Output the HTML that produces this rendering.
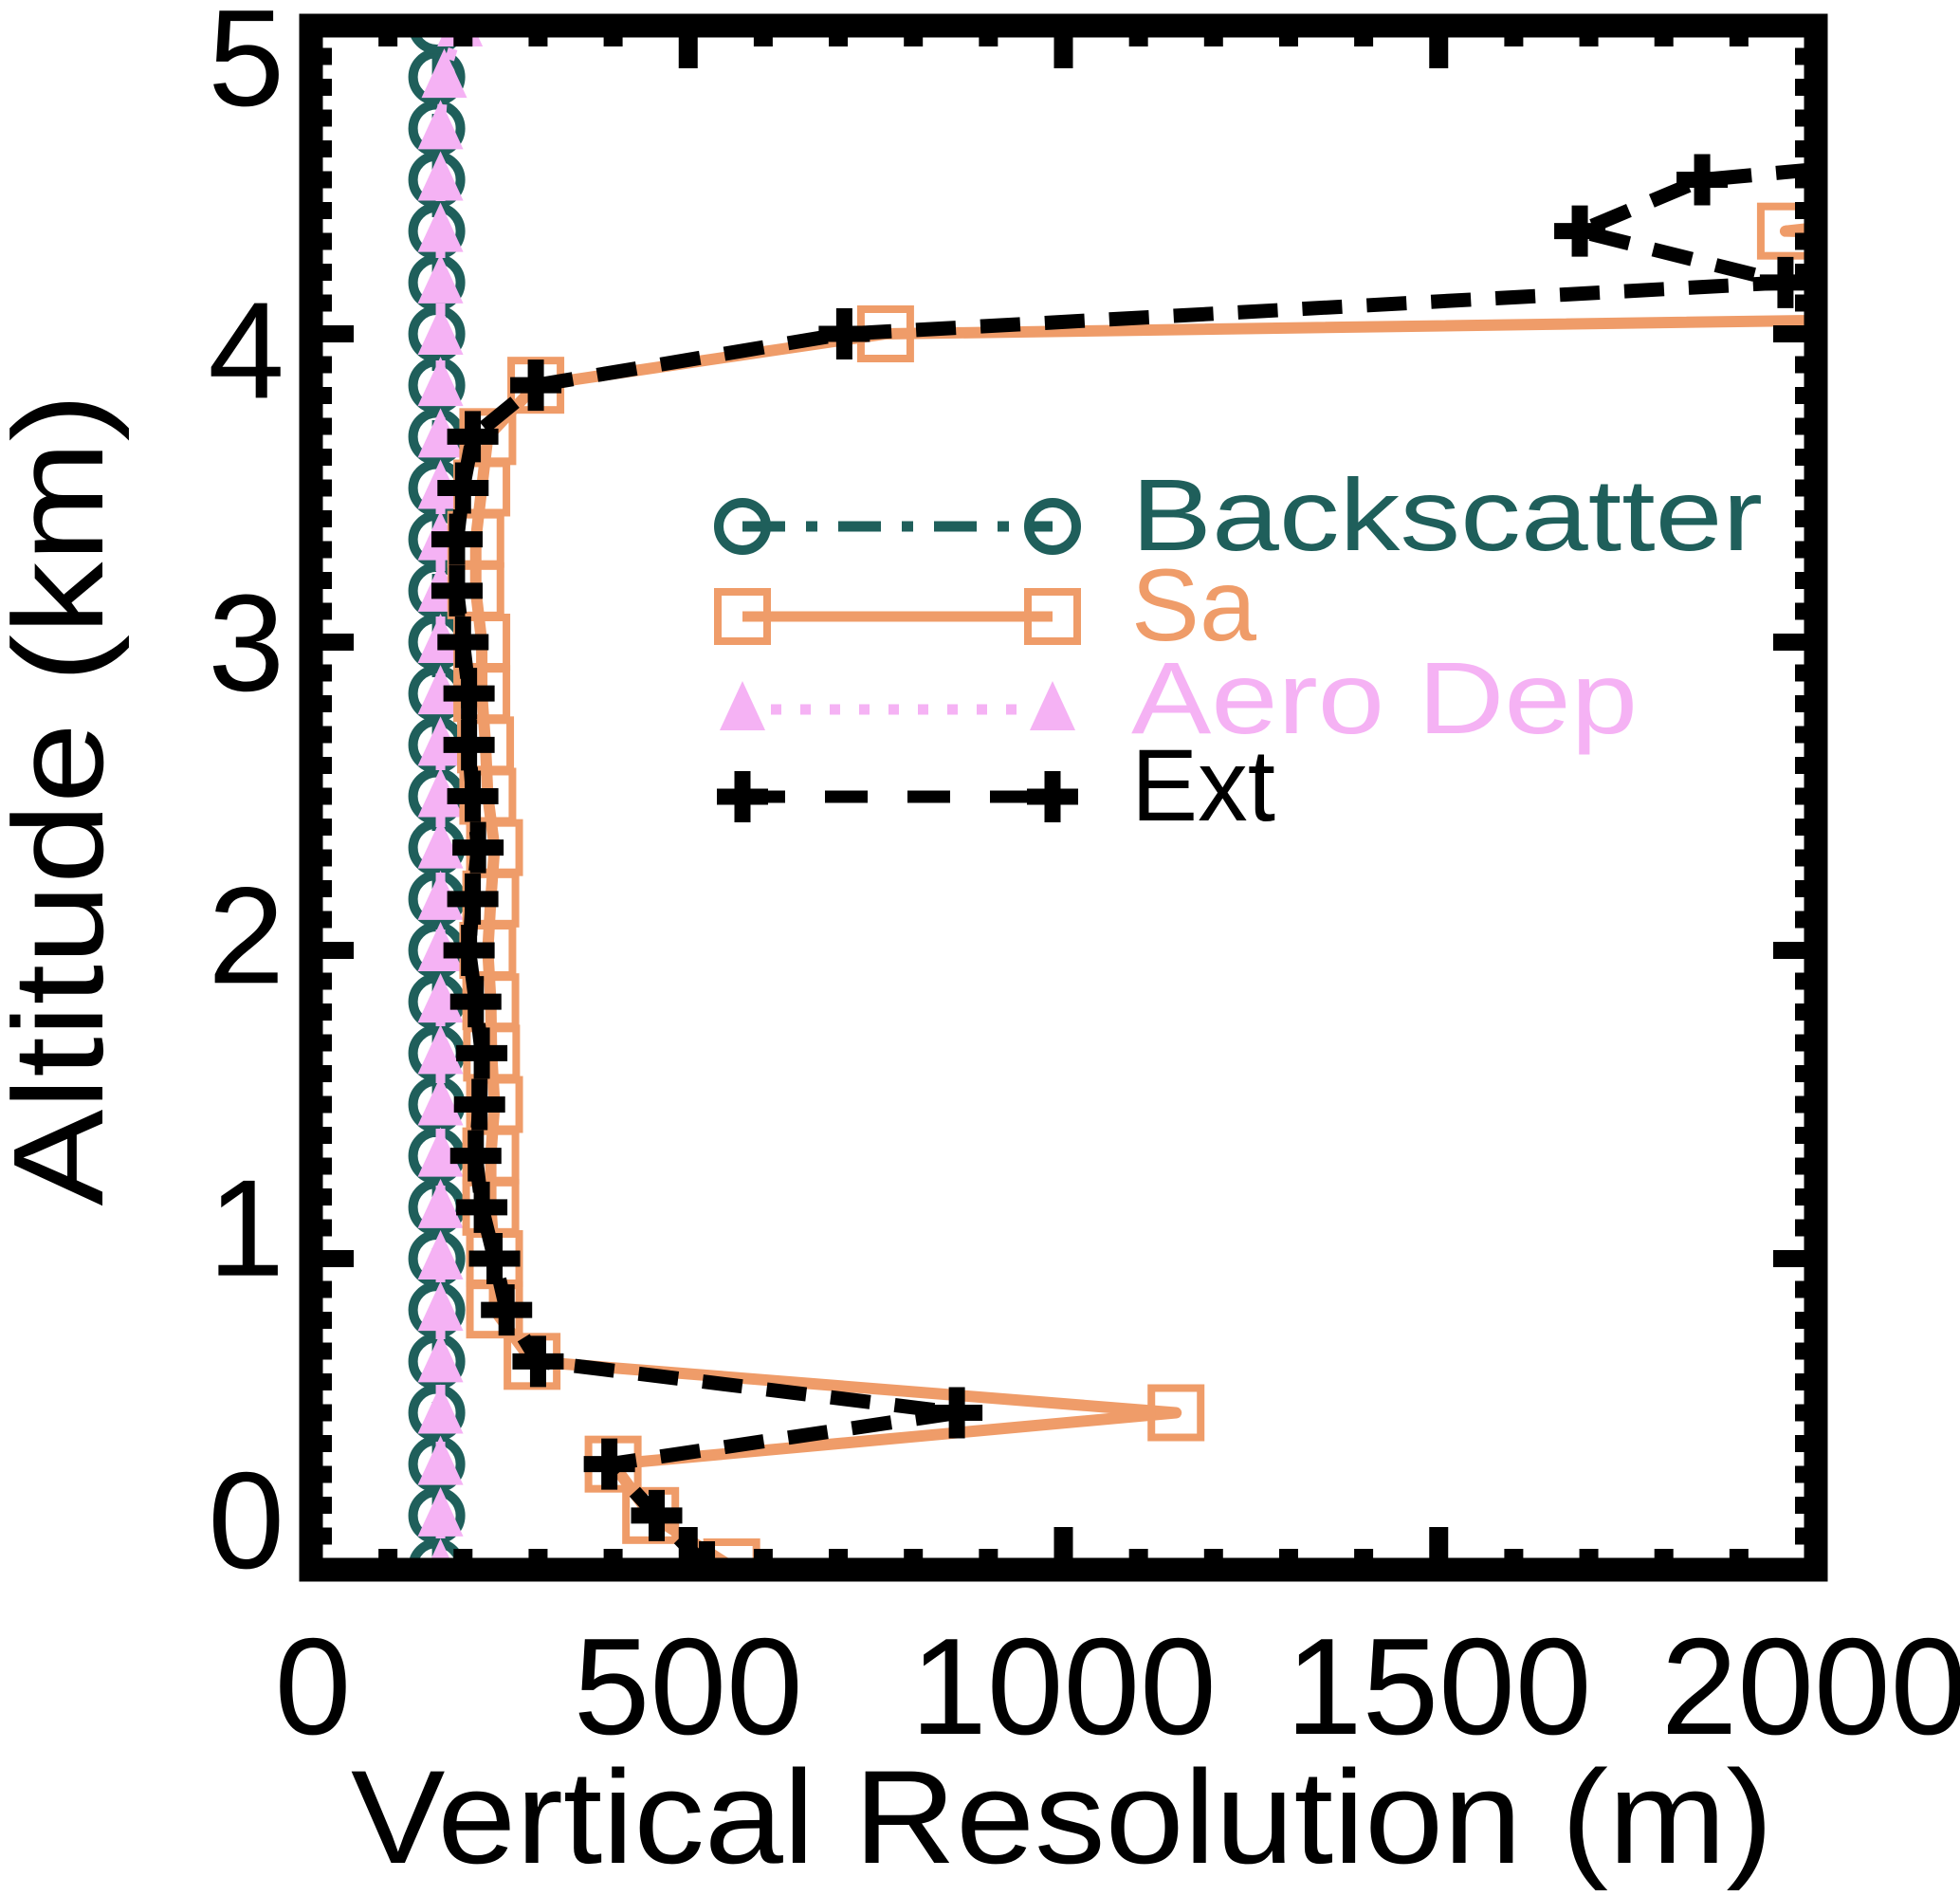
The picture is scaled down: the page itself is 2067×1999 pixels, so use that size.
<!DOCTYPE html>
<html><head><meta charset="utf-8"><style>
html,body{margin:0;padding:0;background:#fff;}
svg{display:block;}
text{font-family:"Liberation Sans","DejaVu Sans",sans-serif;}
</style></head><body>
<svg id="chart" width="2067" height="1999" viewBox="0 0 2067 1999" xmlns="http://www.w3.org/2000/svg">
<defs><clipPath id="plotclip"><rect x="330" y="27" width="1585" height="1628"/></clipPath></defs>
<g id="series" clip-path="url(#plotclip)"></g>
<g id="axes"></g>
<g id="legend"></g>
</svg>
<script>
const altStep = 1/6;
const backscatterVals = [165,165,165,165,165,165,165,165,165,165,165,165,165,165,165,165,165,165,165,165,165,165,165,165,165,165,165,165,165,165,165];
const aeroDepVals = [170,170,170,170,170,170,170,170,170,170,170,170,170,170,170,170,170,170,170,170,170,170,170,170,170,170,170,170,170,175,196];
const saVals = [558,450,400,1150,292,242,242,237,237,242,238,237,233,237,242,233,230,225,225,217,217,225,233,297,763,5500,1962,2600];
const extVals = [525,458,395,858,300,258,242,225,217,222,225,217,208,213,220,213,208,208,200,192,192,200,213,297,708,1962,1688,1851,2600];
const xTicks = [0,500,1000,1500,2000];
const yTicks = [0,1,2,3,4,5];
const legendLabels = ["Backscatter","Sa","Aero Dep","Ext"];

const X0=330, X1=1913, Y0=1652, Y1=27;
const xs = v => X0 + (v-0)/(2000-0)*(X1-X0);
const ys = v => Y0 - (v-0)/(5-0)*(Y0-Y1);
// label placement (labels in reference are slightly compressed vs ticks)
const ysLabel = v => 1601 - v/5*(1601-59);
const NS="http://www.w3.org/2000/svg";
function mk(tag, attrs, parent){const e=document.createElementNS(NS,tag);for(const k in attrs)e.setAttribute(k,attrs[k]);parent.appendChild(e);return e;}
const series=document.getElementById('series'), axes=document.getElementById('axes'), legend=document.getElementById('legend');
const TEAL="#1f5f5b", ORANGE="#ef9c69", PINK="#f5b2f4";

function pts(vals){return vals.map((v,i)=>xs(v)+","+ys(i*altStep)).join(" ");}
function circle(x,y,g){return mk('circle',{cx:x,cy:y,r:25,fill:'none',stroke:TEAL,'stroke-width':10},g);}
function tri(x,y,g){return mk('polygon',{points:`${x},${y-30} ${x-24},${y+22} ${x+24},${y+22}`,fill:PINK},g);}
function square(x,y,g){return mk('rect',{x:x-26,y:y-26,width:52,height:52,fill:'none',stroke:ORANGE,'stroke-width':8},g);}
function plus(x,y,g){return mk('path',{d:`M${x-27},${y}H${x+27}M${x},${y-27}V${y+27}`,stroke:'#000','stroke-width':17,fill:'none'},g);}

let g=mk('g',{},series);


let l=mk('polyline',{points:pts(backscatterVals),fill:'none',stroke:TEAL,'stroke-width':10,'stroke-dasharray':'45 20 12 20'},g);


backscatterVals.forEach((v,i)=>{const m=circle(xs(v),ys(i*altStep),g);

});

g=mk('g',{},series);


l=mk('polyline',{points:pts(aeroDepVals),fill:'none',stroke:PINK,'stroke-width':10,'stroke-dasharray':'12 18'},g);


aeroDepVals.forEach((v,i)=>{const m=tri(xs(v),ys(i*altStep),g);

});

g=mk('g',{},series);


l=mk('polyline',{points:pts(saVals),fill:'none',stroke:ORANGE,'stroke-width':12,'stroke-linejoin':'round'},g);


saVals.forEach((v,i)=>{const m=square(xs(v),ys(i*altStep),g);

});

g=mk('g',{},series);


l=mk('polyline',{points:pts(extVals),fill:'none',stroke:'#000','stroke-width':15,'stroke-dasharray':'42 26'},g);


extVals.forEach((v,i)=>{const m=plus(xs(v),ys(i*altStep),g);

});

const fr=mk('rect',{x:328,y:27,width:1587,height:1628,fill:'none',stroke:'#000','stroke-width':25},axes);


for(let v=0; v<=2000; v+=100){
  const major = v%500===0; const len = major?45:22; const x=xs(v);
  let t=mk('line',{x1:x,y1:1655,x2:x,y2:1655-len,stroke:'#000','stroke-width':20},axes);
  
  
  t=mk('line',{x1:x,y1:27,x2:x,y2:27+len,stroke:'#000','stroke-width':20},axes);
  
  
}
for(let k=0;k<=50;k++){
  const v=k/10; const major=k%10===0; const len=major?45:22; const y=ys(v);
  let t=mk('line',{x1:328,y1:y,x2:328+len,y2:y,stroke:'#000','stroke-width':18},axes);
  
  
  t=mk('line',{x1:1915,y1:y,x2:1915-len,y2:y,stroke:'#000','stroke-width':18},axes);
  
  
}
xTicks.forEach(v=>{const t=mk('text',{x:xs(v),y:1828,'font-size':145,'text-anchor':'middle',fill:'#000'},axes);t.textContent=String(v);

});
yTicks.forEach(v=>{const t=mk('text',{x:300,y:ysLabel(v)+52,'font-size':145,'text-anchor':'end',fill:'#000'},axes);t.textContent=String(v);

});
let tt=mk('text',{x:1120,y:1964,'font-size':140,'text-anchor':'middle',textLength:1500,lengthAdjust:'spacingAndGlyphs',fill:'#000'},axes);
tt.textContent="Vertical Resolution (m)";


tt=mk('text',{x:0,y:0,'font-size':135,'text-anchor':'middle',textLength:857,lengthAdjust:'spacingAndGlyphs',fill:'#000',transform:'translate(108,843) rotate(-90)'},axes);
tt.textContent="Altitude (km)";



const LX0=783, LX1=1110, TX=1193;
const rowsY=[555,650,748,840];
const textW=[666,132,534,152];
const colors=[TEAL,ORANGE,PINK,'#000'];
legendLabels.forEach((lab,i)=>{
  const y=rowsY[i];
  const e=mk('g',{},legend);
  
  
  if(i===0){mk('line',{x1:LX0,y1:y,x2:LX1,y2:y,stroke:TEAL,'stroke-width':11,'stroke-dasharray':'45 22 12 22'},e);circle(LX0,y,e);circle(LX1,y,e);}
  if(i===1){mk('line',{x1:LX0,y1:y,x2:LX1,y2:y,stroke:ORANGE,'stroke-width':11},e);square(LX0,y,e);square(LX1,y,e);}
  if(i===2){mk('line',{x1:LX0+30,y1:y,x2:LX1-30,y2:y,stroke:PINK,'stroke-width':11,'stroke-dasharray':'11 20'},e);tri(LX0,y,e);tri(LX1,y,e);}
  if(i===3){mk('line',{x1:LX0,y1:y,x2:LX1,y2:y,stroke:'#000','stroke-width':13,'stroke-dasharray':'45 42'},e);plus(LX0,y,e);plus(LX1,y,e);}
  const t=mk('text',{x:TX,y:y+25,'font-size':108,fill:colors[i],textLength:textW[i],lengthAdjust:'spacingAndGlyphs'},e);
  t.textContent=lab;
  
  
});
</script>
</body></html>
